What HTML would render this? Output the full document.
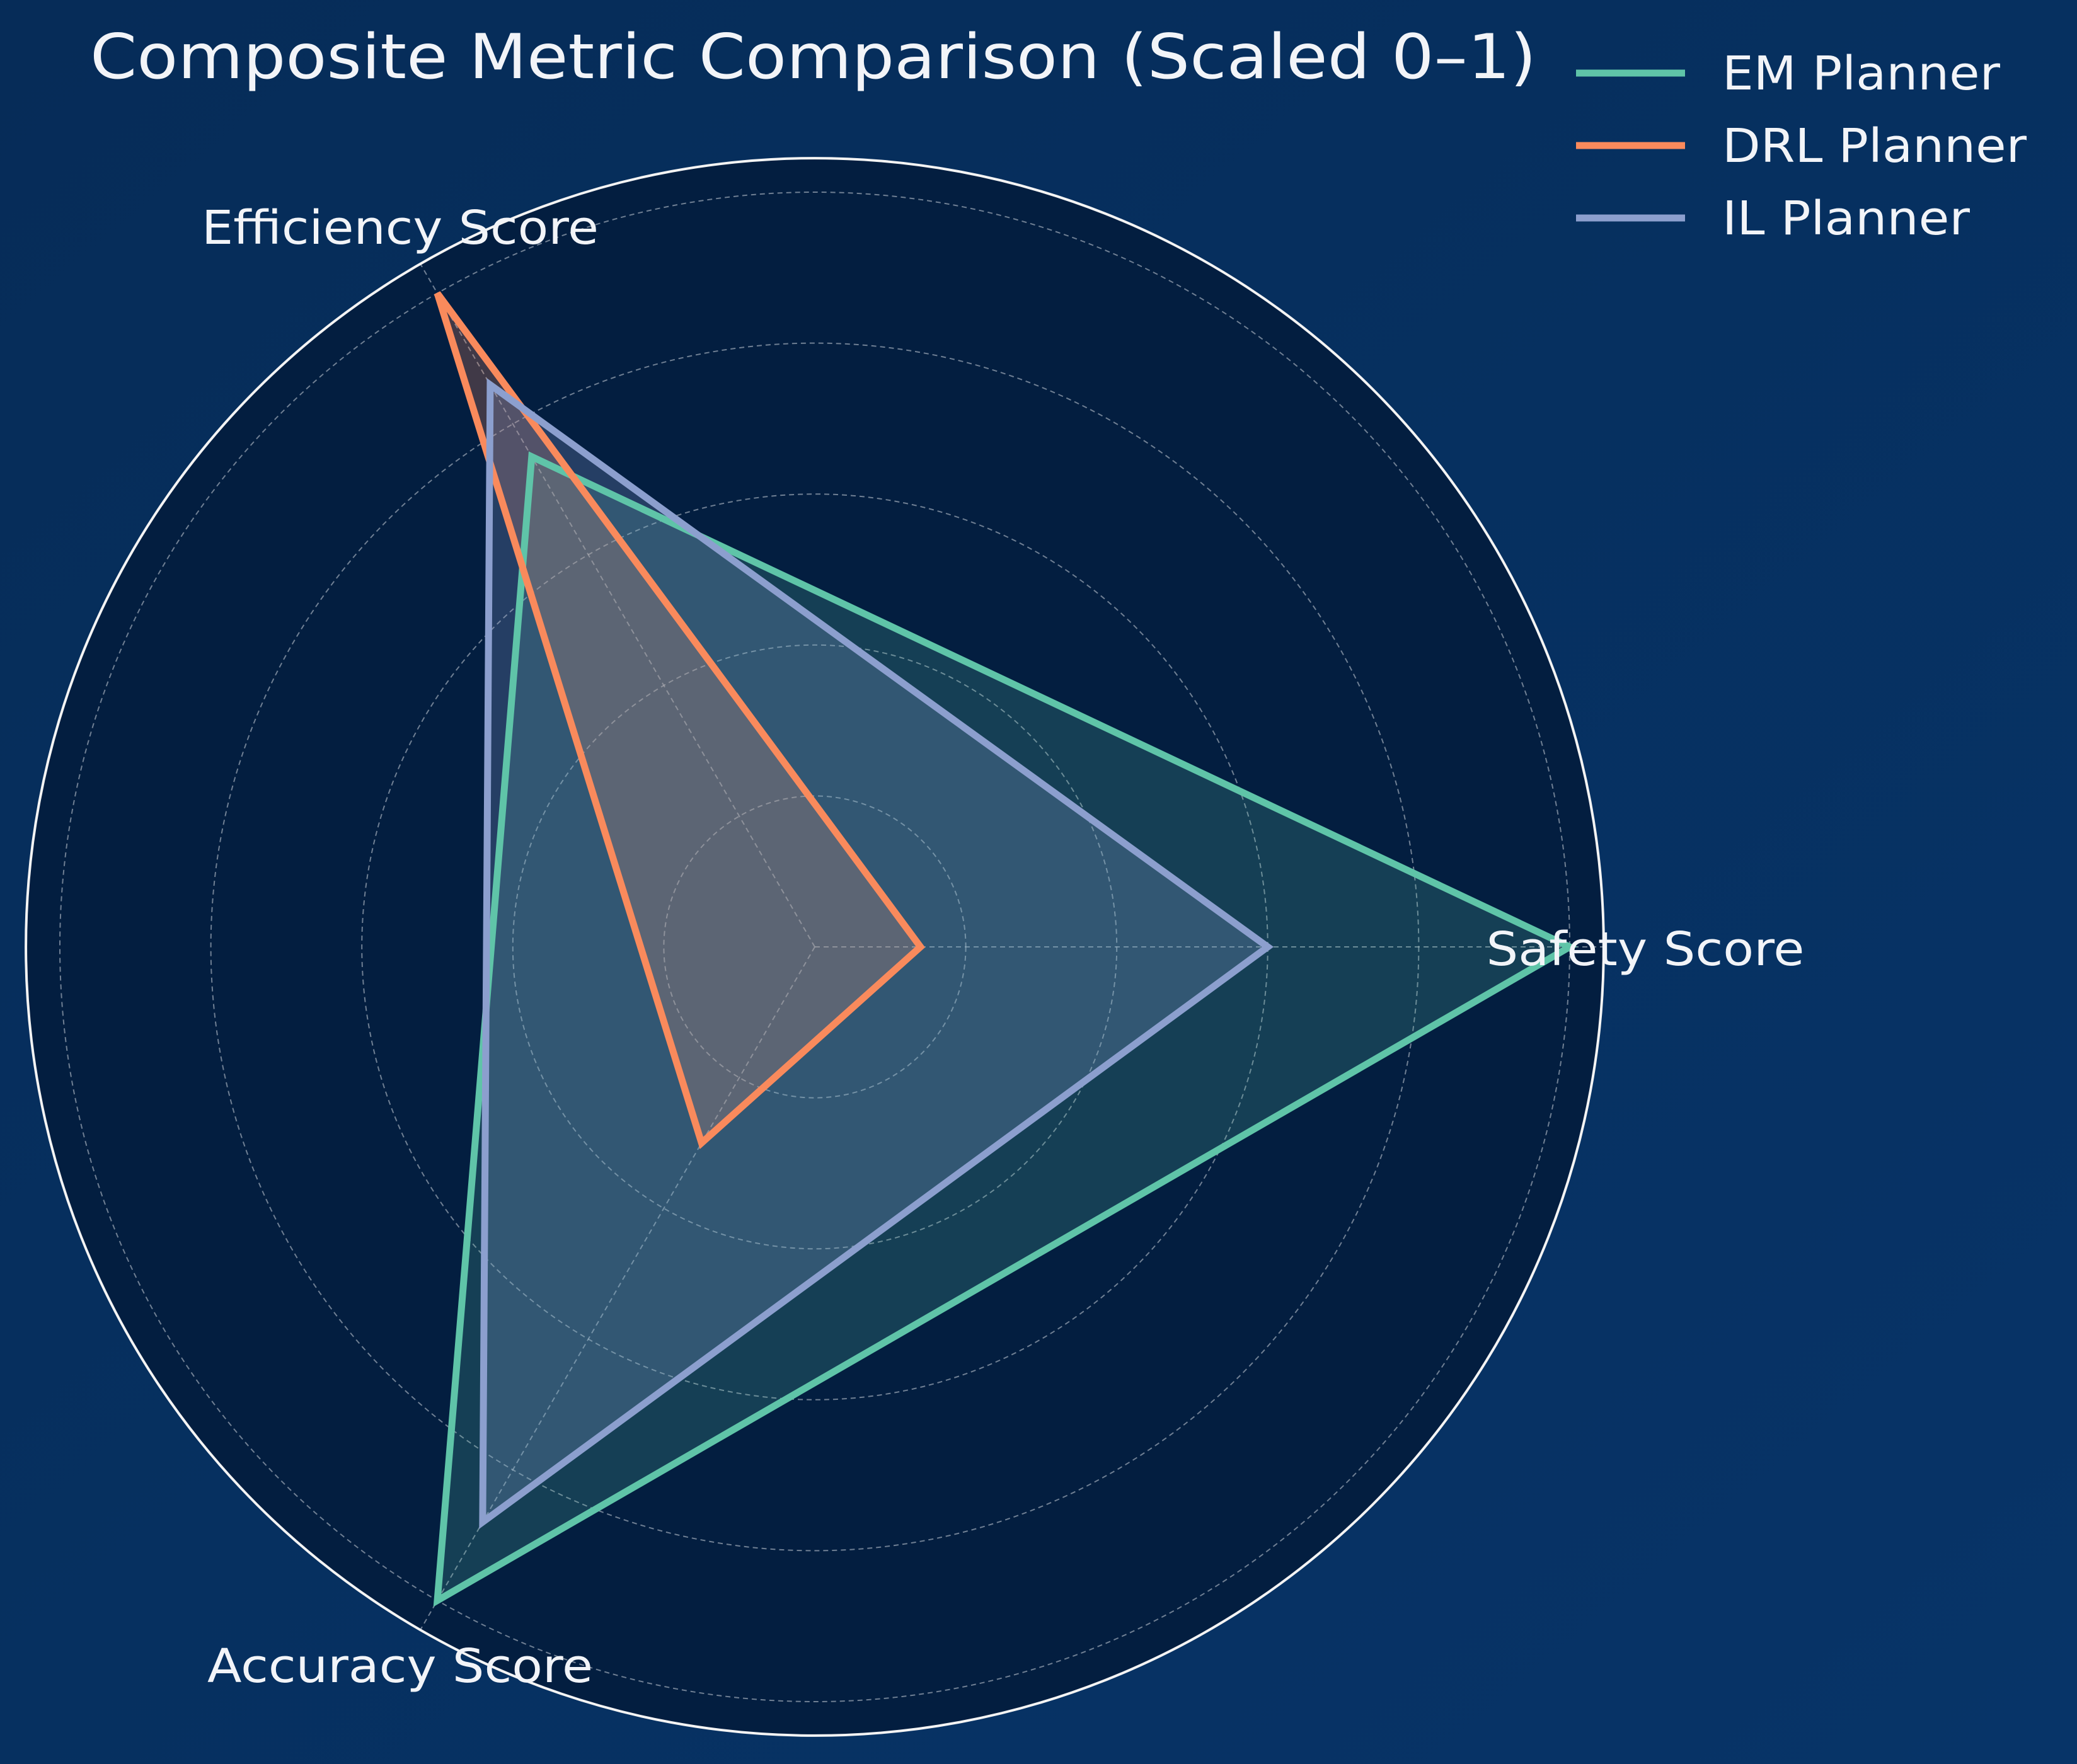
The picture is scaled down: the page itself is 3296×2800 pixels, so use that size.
<!DOCTYPE html>
<html><head><meta charset="utf-8"><style>
html,body{margin:0;padding:0;width:3296px;height:2800px;overflow:hidden;background:#06305f;}
svg{display:block;font-family:"DejaVu Sans","Liberation Sans",sans-serif;}
</style></head><body>
<svg id="chart" width="3296" height="2800" viewBox="0 0 3296 2800" xmlns="http://www.w3.org/2000/svg">
<defs>
<linearGradient id="bg" x1="0" y1="0" x2="1" y2="1">
<stop offset="0" stop-color="#062c58"/><stop offset="1" stop-color="#073468"/>
</linearGradient>
</defs>
<rect width="3296" height="2800" fill="url(#bg)"/>
<g id="plot"></g>
<text x="143" y="124" font-size="98" fill="#f2f4f8" textLength="2295" lengthAdjust="spacingAndGlyphs">Composite Metric Comparison (Scaled 0–1)</text>
<g id="legend"></g>
</svg>
<script>
const categories = ["Safety Score", "Efficiency Score", "Accuracy Score"];
const seriesNames = ["EM Planner", "DRL Planner", "IL Planner"];
const emValues = [1.0, 0.75, 1.0];
const drlValues = [0.14, 1.0, 0.30];
const ilValues = [0.6, 0.86, 0.88];
const gridTicks = [0.2, 0.4, 0.6, 0.8, 1.0];

const NS = "http://www.w3.org/2000/svg";
const cx = 1293, cy = 1503, unit = 1198, rMax = 1.045;
function ang(i){ return i * 2 * Math.PI / categories.length; }
function px(v,i){ return cx + Math.cos(ang(i)) * v * unit; }
function py(v,i){ return cy - Math.sin(ang(i)) * v * unit; }
function mk(tag, attrs, parent){ const e=document.createElementNS(NS,tag); for(const k in attrs) e.setAttribute(k,attrs[k]); parent.appendChild(e); return e; }
const plot = document.getElementById("plot");

const bgc = mk("circle",{cx:cx,cy:cy,r:rMax*unit,fill:"#031e40"},plot);



gridTicks.forEach(t=>{
  const c = mk("circle",{cx:cx,cy:cy,r:t*unit,fill:"none",stroke:"#b8c0cc","stroke-width":2,"stroke-dasharray":"8,6",opacity:0.6},plot);
  
  
});
categories.forEach((c,i)=>{
  const l = mk("line",{x1:cx,y1:cy,x2:px(rMax,i),y2:py(rMax,i),stroke:"#b8c0cc","stroke-width":2,"stroke-dasharray":"8,6",opacity:0.6},plot);
  
  
});

const colors = ["#5fc4a8","#f98a5c","#8c9fce"];
const fillOps = [0.2, 0.25, 0.25];
const allVals = [emValues, drlValues, ilValues];
allVals.forEach((vals,s)=>{
  const pts = vals.map((v,i)=>px(v,i).toFixed(1)+","+py(v,i).toFixed(1)).join(" ");
  const f = mk("polygon",{points:pts,fill:colors[s],"fill-opacity":fillOps[s],stroke:"none"},plot);
  
  
});
allVals.forEach((vals,s)=>{
  const pts = vals.map((v,i)=>px(v,i).toFixed(1)+","+py(v,i).toFixed(1)).join(" ");
  const p = mk("polygon",{points:pts,fill:"none",stroke:colors[s],"stroke-width":11,"stroke-linejoin":"miter"},plot);
  
  
});

const outer = mk("circle",{cx:cx,cy:cy,r:rMax*unit,fill:"none",stroke:"#f4f4f4","stroke-width":4},plot);



const labelPos = [[2611,1532],[635,387],[635,2670]];
const labelW = [505, 630, 612];
categories.forEach((c,i)=>{
  const t = mk("text",{x:labelPos[i][0],y:labelPos[i][1],"text-anchor":"middle","font-size":74,fill:"#f2f4f8",textLength:labelW[i],lengthAdjust:"spacingAndGlyphs"},plot);
  t.textContent = c;
  
  
});

const legend = document.getElementById("legend");
const legW = [441, 483, 393];
seriesNames.forEach((n,s)=>{
  const y = 116 + s*115;
  const ln = mk("line",{x1:2501,y1:y,x2:2674,y2:y,stroke:colors[s],"stroke-width":11},legend);
  
  
  const t = mk("text",{x:2733,y:y+26,"font-size":74,fill:"#f2f4f8",textLength:legW[s],lengthAdjust:"spacingAndGlyphs"},legend);
  t.textContent = n;
  
  
});
</script>
</body></html>
